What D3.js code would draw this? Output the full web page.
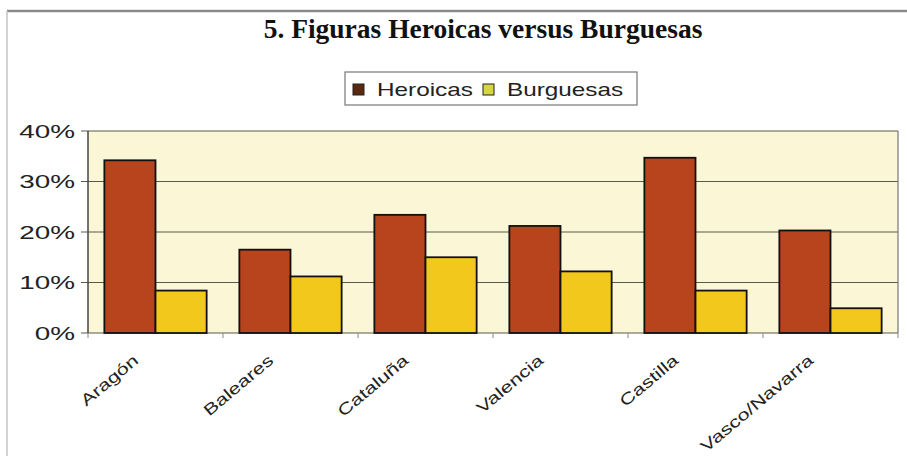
<!DOCTYPE html>
<html lang="es">
<head>
<meta charset="utf-8">
<title>Figuras Heroicas versus Burguesas</title>
<script src="https://cdn.jsdelivr.net/npm/d3@7"></script>
<style>
  body { margin: 0; background: #fff; }
  .title { font-family: "Liberation Serif", serif; font-weight: bold; font-size: 27.5px; fill: #111; text-anchor: middle; }
  .lab { font-family: "Liberation Sans", Arial, sans-serif; fill: #222; }
  .grid line { stroke: #5a5a4a; stroke-width: 1.2; }
  .bar { stroke: #111; stroke-width: 1.8; }
</style>
</head>
<body>
<svg width="907" height="456"></svg>
<script>
  var categories = ["Aragón", "Baleares", "Cataluña", "Valencia", "Castilla", "Vasco/Navarra"];
  var seriesNames = ["Heroicas", "Burguesas"];
  var heroicas  = [0.342, 0.165, 0.234, 0.212, 0.347, 0.203];
  var burguesas = [0.084, 0.112, 0.150, 0.122, 0.084, 0.049];
  var yTicks = [0, 0.1, 0.2, 0.3, 0.4];
  var colors = ["#b8441d", "#f2c81c"];
  var swatchColors = ["#5a2a10", "#d8d640"];

  var svg = d3.select("svg");
  var W = 907, H = 456;
  var plot = { left: 88, right: 898, top: 131, bottom: 333 };

  // outer frame
  svg.append("line").attr("x1", 7).attr("x2", W).attr("y1", 11).attr("y2", 11)
    .attr("stroke", "#8a8a8a").attr("stroke-width", 2.5);
  svg.append("line").attr("x1", 7).attr("x2", 7).attr("y1", 11).attr("y2", H)
    .attr("stroke", "#c4c4c4").attr("stroke-width", 1.5);

  svg.append("text").attr("class", "title").attr("x", 483).attr("y", 38)
    .text("5. Figuras Heroicas versus Burguesas");

  var x0 = d3.scaleBand().domain(categories).range([plot.left, plot.right]).padding(0);
  var x1 = d3.scaleBand().domain(seriesNames).range([0, x0.bandwidth()])
    .paddingInner(0).paddingOuter(0.32);
  var y = d3.scaleLinear().domain([0, 0.4]).range([plot.bottom, plot.top]);

  // plot background
  svg.append("rect").attr("x", plot.left).attr("y", plot.top)
    .attr("width", plot.right - plot.left).attr("height", plot.bottom - plot.top)
    .attr("fill", "#faf6d6");

  // gridlines
  svg.append("g").attr("class", "grid")
    .selectAll("line").data(yTicks).enter().append("line")
    .attr("x1", plot.left - 7).attr("x2", plot.right)
    .attr("y1", function(d) { return y(d); }).attr("y2", function(d) { return y(d); });

  // plot borders
  svg.append("line").attr("x1", plot.left).attr("x2", plot.left)
    .attr("y1", plot.top).attr("y2", plot.bottom).attr("stroke", "#444").attr("stroke-width", 1.5);
  svg.append("line").attr("x1", plot.right).attr("x2", plot.right)
    .attr("y1", plot.top).attr("y2", plot.bottom).attr("stroke", "#777").attr("stroke-width", 1.2);

  // x ticks between groups
  var xt = categories.map(function(c) { return x0(c); }).concat([plot.right]);
  svg.append("g").selectAll("line").data(xt).enter().append("line")
    .attr("x1", function(d) { return d; }).attr("x2", function(d) { return d; })
    .attr("y1", plot.bottom).attr("y2", plot.bottom + 5)
    .attr("stroke", "#888").attr("stroke-width", 1);

  // y labels
  svg.append("g").selectAll("text").data(yTicks).enter().append("text")
    .attr("class", "lab")
    .attr("transform", function(d) { return "translate(75," + (y(d) + 6.5) + ") scale(1.55,1)"; })
    .attr("text-anchor", "end")
    .style("font-size", "18px")
    .text(function(d) { return d3.format(".0%")(d); });

  // bars
  var rows = categories.map(function(c, i) {
    return { cat: c, vals: [heroicas[i], burguesas[i]] };
  });
  var grp = svg.append("g").selectAll("g").data(rows).enter().append("g")
    .attr("transform", function(d) { return "translate(" + x0(d.cat) + ",0)"; });
  grp.selectAll("rect").data(function(d) { return d.vals; }).enter().append("rect")
    .attr("class", "bar")
    .attr("x", function(d, i) { return x1(seriesNames[i]); })
    .attr("width", x1.bandwidth())
    .attr("y", function(d) { return y(d); })
    .attr("height", function(d) { return plot.bottom - y(d); })
    .attr("fill", function(d, i) { return colors[i]; });

  // x labels
  svg.append("g").selectAll("text").data(categories).enter().append("text")
    .attr("class", "lab")
    .attr("text-anchor", "end")
    .style("font-size", "16px")
    .attr("transform", function(d) {
      return "translate(" + (x0(d) + x0.bandwidth() / 2 - 16) + "," + (plot.bottom + 29) + ") rotate(-40) scale(1.35,1)";
    })
    .text(function(d) { return d; });

  // legend
  var lg = svg.append("g").attr("transform", "translate(345,72)");
  lg.append("rect").attr("width", 292).attr("height", 33)
    .attr("fill", "#fff").attr("stroke", "#777").attr("stroke-width", 1.2);
  var legX = [8, 138];
  seriesNames.forEach(function(s, i) {
    lg.append("rect").attr("x", legX[i]).attr("y", 12).attr("width", 11).attr("height", 11)
      .attr("fill", swatchColors[i]).attr("stroke", "#222").attr("stroke-width", 1);
    lg.append("text").attr("class", "lab")
      .attr("transform", "translate(" + (legX[i] + 24) + ",24) scale(1.35,1)")
      .style("font-size", "18px")
      .text(s);
  });
</script>
</body>
</html>
